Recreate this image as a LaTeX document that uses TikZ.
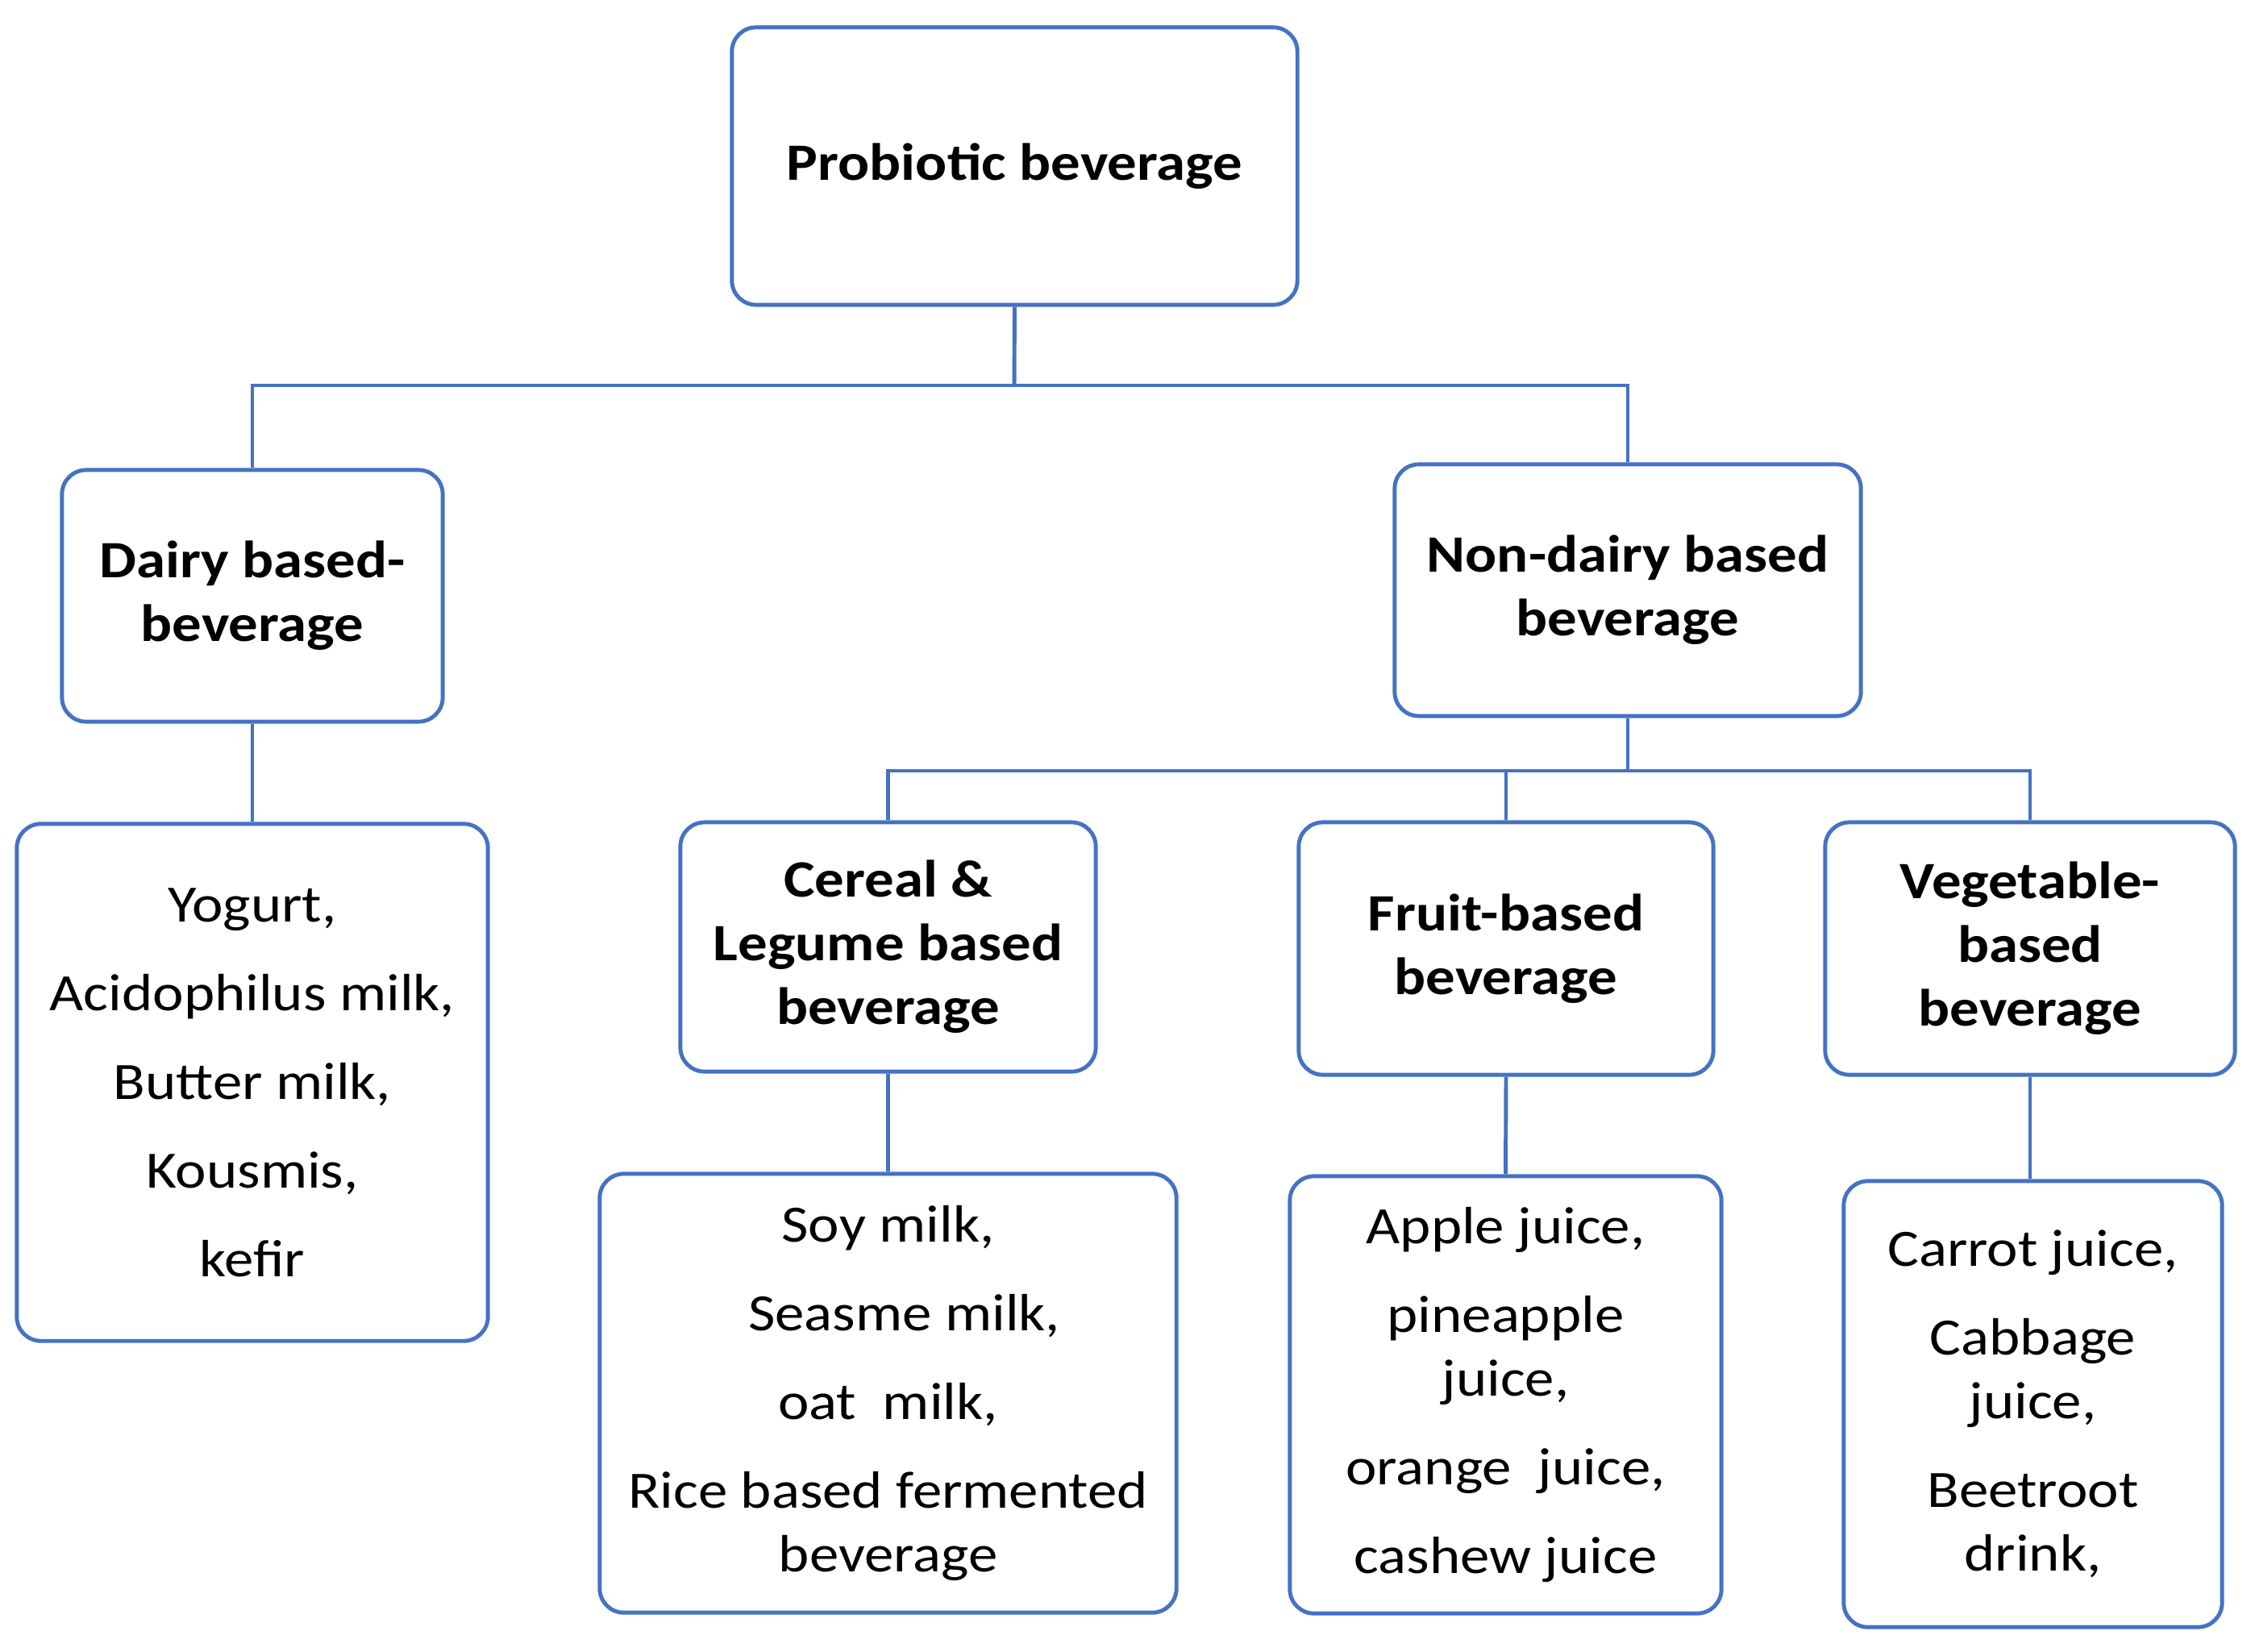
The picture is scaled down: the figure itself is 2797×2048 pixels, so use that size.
\documentclass[tikz,border=0pt]{standalone}
\usepackage{fontspec}
\setmainfont{Carlito}[FakeStretch=1.12]
\usetikzlibrary{positioning}
\definecolor{boxblue}{HTML}{4472C4}
\tikzset{
  box/.style={draw=boxblue, line width=1.4pt, rounded corners=0.3cm, fill=white, align=center, inner sep=0pt, font=\fontsize{18.5}{22.5}\selectfont},
  hdr/.style={box, font=\fontsize{18.5}{22.5}\selectfont\bfseries},
  conn/.style={draw=boxblue, line width=1.4pt}
}
\newcommand{\gap}{\\[8.8pt]}
\begin{document}
\begin{tikzpicture}[x=0.01cm, y=-0.01cm]
\useasboundingbox (0,0) rectangle (2797,2048);
% top
\node[hdr, minimum width=7.01cm, minimum height=3.44cm] (top) at (1258.5,206) {Probiotic beverage};
% level 2
\node[hdr, minimum width=4.72cm, minimum height=3.12cm] (dairy) at (313,739) {Dairy based-\\beverage};
\node[hdr, minimum width=5.78cm, minimum height=3.12cm] (nondairy) at (2019,732) {Non-dairy based\\beverage};
% level 3
\node[hdr, minimum width=5.15cm, minimum height=3.09cm] (cereal) at (1101.5,1174.5) {Cereal \&\\Legume based\\beverage};
\node[hdr, minimum width=5.14cm, minimum height=3.13cm] (fruit) at (1868,1176.5) {Fruit-based\\beverage};
\node[hdr, minimum width=5.08cm, minimum height=3.13cm] (veg) at (2518,1176.5) {Vegetable-\\based\\beverage};
% lists
\node[box, minimum width=5.84cm, minimum height=6.41cm] (dairylist) at (313,1342.5) {Yogurt,\gap Acidophilus milk,\gap Butter milk,\gap Kousmis,\gap kefir};
\node[box, minimum width=7.15cm, minimum height=5.44cm] (cereallist) at (1101.5,1728) {Soy milk,\gap \hspace*{0.4cm}Seasme milk,\gap oat~ milk,\gap Rice based fermented\\beverage};
\node[box, minimum width=5.35cm, minimum height=5.42cm] (fruitlist) at (1867.5,1730) {Apple juice,\gap pineapple\\juice,\gap orange~ juice,\gap cashew juice};
\node[box, minimum width=4.69cm, minimum height=5.53cm] (veglist) at (2521.5,1741.5) {Carrot juice,\gap Cabbage\\juice,\gap Beetroot\\drink,};
% connectors
\coordinate (j1) at (1258,478);
\coordinate (j2) at (2019,956);
\draw[conn] (top.south) -- (j1);
\draw[conn] (j1) -| (dairy.north);
\draw[conn] (j1) -| (nondairy.north);
\draw[conn] (nondairy.south) -- (j2);
\draw[conn] (j2) -| (cereal.north);
\draw[conn] (j2) -| (fruit.north);
\draw[conn] (j2) -| (veg.north);
\draw[conn] (dairy.south) -- (dairylist.north);
\draw[conn] (cereal.south) -- (cereallist.north);
\draw[conn] (fruit.south) -- (fruitlist.north);
\draw[conn] (veg.south) -- (veg.south |- veglist.north);
\end{tikzpicture}
\end{document}
